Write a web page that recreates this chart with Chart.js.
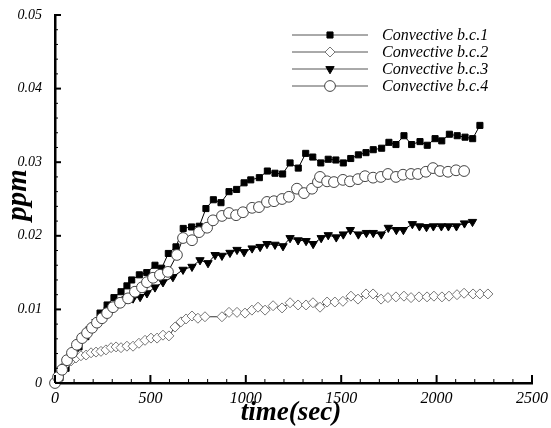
<!DOCTYPE html>
<html>
<head>
<meta charset="utf-8">
<script src="https://cdn.jsdelivr.net/npm/chart.js@4.4.1/dist/chart.umd.min.js"></script>
<style>
  html, body { margin: 0; padding: 0; background: #fff; }
  #wrap { width: 551px; height: 428px; }
</style>
</head>
<body>
<div id="wrap"><canvas id="c" width="551" height="428"></canvas></div>
<script>
// Concentration (ppm) against time (sec) for four convective boundary conditions
const seriesNames = ['Convective b.c.1', 'Convective b.c.2', 'Convective b.c.3', 'Convective b.c.4'];

const time1 = [0,26,58,94,126,162,199,236,273,309,346,377,402,442,481,524,559,594,634,672,
  716,756,791,830,870,912,952,991,1026,1071,1113,1153,1193,1232,1275,1314,1351,1393,1432,1472,
  1511,1550,1590,1630,1668,1712,1750,1787,1829,1869,1913,1951,1992,2027,2067,2108,2149,2189,2227];
const ppm1 = [0,0.0007,0.0020,0.0037,0.0049,0.0063,0.0076,0.0095,0.0106,0.0116,0.0124,0.0132,0.0140,0.0147,0.0150,0.0160,0.0156,0.0176,0.0185,0.0210,
  0.0212,0.0213,0.0237,0.0249,0.0245,0.0260,0.0263,0.0272,0.0276,0.0279,0.0288,0.0285,0.0284,0.0299,0.0292,0.0312,0.0307,0.0299,0.0304,0.0303,
  0.0299,0.0305,0.0310,0.0313,0.0317,0.0319,0.0327,0.0324,0.0336,0.0324,0.0328,0.0323,0.0332,0.0329,0.0338,0.0336,0.0334,0.0332,0.0350];

const time2 = [0,16,37,58,84,110,136,163,189,215,241,267,294,320,346,377,409,440,472,503,
  535,566,597,629,660,687,718,749,786,875,912,954,996,1032,1064,1101,1143,1190,1232,1274,
  1316,1352,1389,1426,1467,1509,1551,1588,1630,1667,1709,1745,1787,1829,1866,1908,1950,1986,2028,2065,
  2107,2144,2191,2227,2269];
const ppm2 = [0,0.0011,0.0020,0.0026,0.0030,0.0034,0.0037,0.0038,0.0041,0.0042,0.0043,0.0045,0.0048,0.0049,0.0048,0.0050,0.0050,0.0054,0.0058,0.0061,
  0.0061,0.0065,0.0064,0.0076,0.0083,0.0087,0.0091,0.0088,0.0090,0.0090,0.0096,0.0096,0.0095,0.0099,0.0103,0.0099,0.0105,0.0102,0.0109,0.0106,
  0.0106,0.0109,0.0103,0.0110,0.0110,0.0111,0.0118,0.0114,0.0121,0.0121,0.0114,0.0116,0.0117,0.0118,0.0116,0.0117,0.0117,0.0118,0.0117,0.0118,
  0.0120,0.0122,0.0121,0.0121,0.0121];

const time3 = [0,26,58,89,121,152,183,215,246,278,309,341,372,409,446,482,524,566,618,671,
  718,760,802,839,875,917,954,991,1033,1075,1111,1153,1195,1232,1274,1316,1353,1395,1432,1474,
  1511,1548,1590,1632,1668,1710,1747,1789,1826,1873,1910,1947,1983,2025,2062,2104,2146,2188];
const ppm3 = [0,0.0010,0.0023,0.0037,0.0049,0.0061,0.0073,0.0083,0.0091,0.0099,0.0106,0.0111,0.0114,0.0115,0.0117,0.0122,0.0130,0.0137,0.0144,0.0154,
  0.0158,0.0167,0.0163,0.0174,0.0173,0.0177,0.0181,0.0178,0.0183,0.0185,0.0189,0.0188,0.0186,0.0197,0.0194,0.0193,0.0189,0.0197,0.0201,0.0198,
  0.0202,0.0208,0.0202,0.0204,0.0204,0.0202,0.0211,0.0208,0.0208,0.0216,0.0213,0.0212,0.0213,0.0213,0.0213,0.0213,0.0217,0.0219];

const time4 = [0,16,37,63,89,115,142,168,194,220,246,273,304,341,383,419,456,482,514,550,
  592,639,671,718,755,797,828,875,912,949,985,1033,1069,1111,1148,1190,1226,1268,1305,1347,
  1378,1389,1426,1462,1509,1546,1588,1625,1667,1708,1745,1787,1824,1866,1902,1944,1981,2018,2060,2102,2144];
const ppm4 = [0,0.0008,0.0018,0.0031,0.0041,0.0052,0.0061,0.0068,0.0075,0.0082,0.0088,0.0095,0.0103,0.0109,0.0115,0.0124,0.0130,0.0137,0.0143,0.0147,
  0.0151,0.0174,0.0197,0.0194,0.0205,0.0211,0.0221,0.0227,0.0231,0.0228,0.0232,0.0238,0.0239,0.0246,0.0247,0.0250,0.0253,0.0264,0.0258,0.0264,
  0.0273,0.0280,0.0274,0.0273,0.0276,0.0274,0.0277,0.0281,0.0279,0.0280,0.0284,0.0280,0.0283,0.0284,0.0284,0.0287,0.0292,0.0288,0.0287,0.0289,0.0288];

const xTickLabels = ['0', '500', '1000', '1500', '2000', '2500'];
const yTickLabels = ['0', '0.01', '0.02', '0.03', '0.04', '0.05'];
const xTitle = 'time(sec)';
const yTitle = 'ppm';

const pairs = (ts, vs) => ts.map((t, i) => ({ x: t, y: vs[i] }));

const SERIF = '"Liberation Serif", "DejaVu Serif", serif';

const styles = [
  { pointStyle: 'rect', radius: 4.3, rotation: 0, fill: '#000', stroke: '#000', line: '#000', order: 2 },
  { pointStyle: 'rectRot', radius: 5.0, rotation: 0, fill: '#fff', stroke: '#777', line: '#333', order: 1 },
  { pointStyle: 'triangle', radius: 4.8, rotation: 180, fill: '#000', stroke: '#000', line: '#000', order: 3 },
  { pointStyle: 'circle', radius: 5.4, rotation: 0, fill: '#fff', stroke: '#444', line: '#000', order: 0 }
];

const seriesData = [pairs(time1, ppm1), pairs(time2, ppm2), pairs(time3, ppm3), pairs(time4, ppm4)];

const datasets = seriesData.map((d, i) => ({
  label: seriesNames[i],
  data: d,
  borderColor: styles[i].line,
  borderWidth: 1,
  backgroundColor: styles[i].fill,
  pointStyle: styles[i].pointStyle,
  pointRadius: styles[i].radius,
  pointRotation: styles[i].rotation,
  pointBackgroundColor: styles[i].fill,
  pointBorderColor: styles[i].stroke,
  pointBorderWidth: 1,
  tension: 0,
  clip: false,
  order: styles[i].order
}));

// Inward tick marks, axis titles and the frameless legend
const decor = {
  id: 'decor',
  afterDraw(chart) {
    const { ctx, chartArea: a } = chart;
    const xs = chart.scales.x, ys = chart.scales.y;
    ctx.save();
    ctx.strokeStyle = '#000';
    for (let i = 0; i <= 25; i++) {
      const px = xs.getPixelForValue(i * 100);
      const major = i % 5 === 0;
      ctx.lineWidth = major ? 2 : 1;
      ctx.beginPath();
      ctx.moveTo(px, a.bottom);
      ctx.lineTo(px, a.bottom - (major ? 8 : 4));
      ctx.stroke();
    }
    for (let i = 0; i <= 25; i++) {
      const py = ys.getPixelForValue(i * 0.002);
      const major = i % 5 === 0;
      ctx.lineWidth = major ? 2 : 1;
      ctx.beginPath();
      ctx.moveTo(a.left, py);
      ctx.lineTo(a.left + (major ? 6 : 3), py);
      ctx.stroke();
    }

    ctx.fillStyle = '#000';
    ctx.font = 'italic bold 27px ' + SERIF;
    ctx.textAlign = 'center';
    ctx.textBaseline = 'middle';
    ctx.fillText(xTitle, 291, 413);
    ctx.save();
    ctx.font = 'italic bold 29px ' + SERIF;
    ctx.translate(19, 195);
    ctx.rotate(-Math.PI / 2);
    ctx.fillText(yTitle, 0, 0);
    ctx.restore();

    // legend
    ctx.font = 'italic 16px ' + SERIF;
    ctx.textAlign = 'left';
    styles.forEach((s, i) => {
      const y = 35 + i * 17;
      ctx.strokeStyle = '#555';
      ctx.lineWidth = 1;
      ctx.beginPath();
      ctx.moveTo(292, y);
      ctx.lineTo(368, y);
      ctx.stroke();
      ctx.fillStyle = s.fill;
      ctx.strokeStyle = s.stroke;
      Chart.helpers.drawPoint(ctx, { pointStyle: s.pointStyle, radius: s.radius, rotation: s.rotation, borderWidth: 1 }, 330, y);
      ctx.fillStyle = '#000';
      ctx.fillText(seriesNames[i], 382, y + 1);
    });
    ctx.restore();
  }
};

new Chart(document.getElementById('c'), {
  type: 'line',
  data: { datasets },
  options: {
    responsive: false,
    animation: false,
    events: [],
    layout: { autoPadding: false, padding: { left: 0, right: 19, top: 15, bottom: 0 } },
    plugins: { legend: { display: false }, tooltip: { enabled: false } },
    scales: {
      x: {
        type: 'linear',
        min: 0, max: 2500,
        afterFit(s) { s.height = 45; s.paddingLeft = 0; s.paddingRight = 0; },
        grid: { display: true, drawOnChartArea: false, drawTicks: false },
        border: { display: true, color: '#000', width: 2.5 },
        ticks: {
          stepSize: 500,
          padding: 6,
          color: '#000',
          maxRotation: 0,
          font: { family: SERIF, size: 16, style: 'italic' },
          callback: (v, i) => xTickLabels[i]
        }
      },
      y: {
        type: 'linear',
        min: 0, max: 0.05,
        afterFit(s) { s.width = 55; s.paddingTop = 0; s.paddingBottom = 0; },
        grid: { display: true, drawOnChartArea: false, drawTicks: false },
        border: { display: true, color: '#000', width: 2.5 },
        ticks: {
          stepSize: 0.01,
          padding: 13,
          color: '#000',
          font: { family: SERIF, size: 14, style: 'italic' },
          callback: (v, i) => yTickLabels[i]
        }
      }
    }
  },
  plugins: [decor]
});
</script>
</body>
</html>
